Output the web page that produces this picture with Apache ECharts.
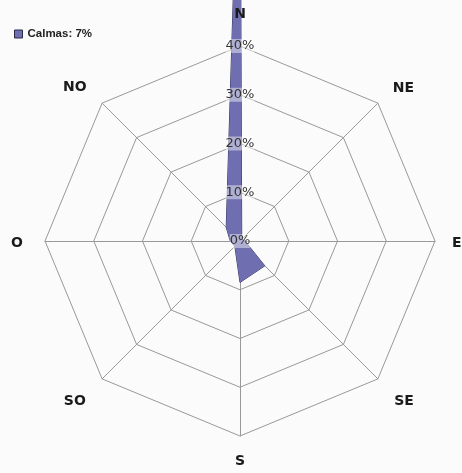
<!DOCTYPE html>
<html>
<head>
<meta charset="utf-8">
<script src="https://cdn.jsdelivr.net/npm/echarts@6/dist/echarts.min.js"></script>
<style>
html, body { margin: 0; padding: 0; background: #fbfbfb; }
#chart { width: 462px; height: 473px; }
</style>
</head>
<body>
<div id="chart"></div>
<script>
// compass order, clockwise from N
var directions = ['N', 'NE', 'E', 'SE', 'S', 'SO', 'O', 'NO'];
var frequencies = [95, 0.5, 1, 7.2, 8.5, 1.5, 2, 4];   // % per direction
var calmas = 7;                                          // % calm
var axisMax = 40;
var tickStep = 10;

// gap between ring and direction name, and a little vertical nudge (same order as directions)
var nameGaps = [25, 21, 17, 23, 18, 23, 22, 22];
var nameNudge = [0, 0, 4, 12, 0, 12, 4, 0];

// radar lays indicators counterclockwise -> walk the compass backwards
var order = [0, 7, 6, 5, 4, 3, 2, 1];
var values = order.map(function (i) { return frequencies[i]; });

var center = [240, 241];
var radius = 195;

// grid radar: rings + spokes only, drawn under the series
var gridIndicators = order.map(function (i) {
    return { name: directions[i], min: 0, max: axisMax };
});

// overlay radar: direction names + % labels, drawn over the series
var labelIndicators = order.map(function (i) {
    var ind = { name: directions[i], min: 0, max: axisMax, nameGap: nameGaps[i] };
    if (i === 0) {
        ind.axisLabel = {
            show: true,
            margin: 0,
            align: 'center',
            verticalAlign: 'middle',
            color: '#333',
            fontFamily: 'DejaVu Sans',
            fontSize: 13,
            backgroundColor: 'rgba(255,255,255,0.45)',
            padding: [1, 0, 0, 0],
            formatter: '{value}%'
        };
    }
    return ind;
});

var nameRich = {};
directions.forEach(function (d, i) {
    nameRich['d' + i] = {
        color: '#1a1a1a', fontFamily: 'DejaVu Sans', fontWeight: 'bold', fontSize: 14,
        padding: [nameNudge[i], 0, 0, 0]
    };
});

var seriesName = 'Calmas: ' + calmas + '%';

var chart = echarts.init(document.getElementById('chart'));
chart.setOption({
    backgroundColor: '#fbfbfb',
    animation: false,
    legend: {
        data: [seriesName],
        left: 14,
        top: 28,
        padding: 0,
        icon: 'rect',
        itemWidth: 8,
        itemHeight: 8,
        itemStyle: { borderColor: '#2a2a4a', borderWidth: 1 },
        textStyle: { fontFamily: 'Liberation Sans', fontWeight: 'bold', fontSize: 11.5, color: '#222' }
    },
    radar: [{
        z: 1,
        center: center,
        radius: radius,
        startAngle: 90,
        shape: 'polygon',
        splitNumber: axisMax / tickStep,
        indicator: gridIndicators,
        axisName: { show: false },
        axisLabel: { show: false },
        axisTick: { show: false },
        axisLine: { lineStyle: { color: '#999', width: 1 } },
        splitLine: { lineStyle: { color: '#999', width: 1 } },
        splitArea: { show: false }
    }, {
        z: 5,
        center: center,
        radius: radius,
        startAngle: 90,
        shape: 'polygon',
        splitNumber: axisMax / tickStep,
        indicator: labelIndicators,
        axisName: {
            color: '#1a1a1a',
            fontFamily: 'DejaVu Sans',
            fontWeight: 'bold',
            fontSize: 14,
            formatter: function (name) {
                return '{d' + directions.indexOf(name) + '|' + name + '}';
            },
            rich: nameRich
        },
        axisLabel: { show: false },
        axisTick: { show: false },
        axisLine: { show: false },
        splitLine: { show: false },
        splitArea: { show: false }
    }],
    series: [{
        name: seriesName,
        type: 'radar',
        radarIndex: 0,
        symbol: 'none',
        z: 2,
        lineStyle: { color: '#33335e', width: 1 },
        areaStyle: { color: '#6e6eb0', opacity: 1 },
        itemStyle: { color: '#6e6eb0' },
        data: [{ value: values, name: seriesName }]
    }]
});
</script>
</body>
</html>
